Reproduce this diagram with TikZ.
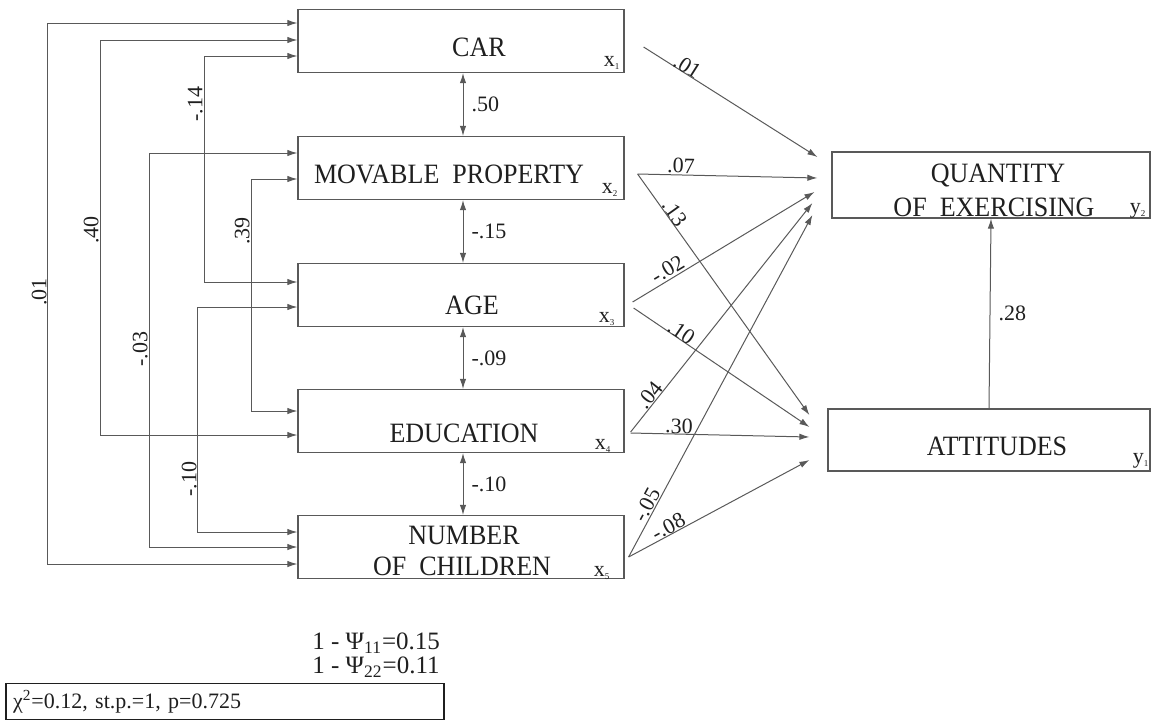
\documentclass[tikz,border=0pt]{standalone}
\usepackage{fontspec}
\setmainfont{Liberation Serif}
\newfontfamily\boxfont[FakeStretch=0.93]{Liberation Serif}
\usetikzlibrary{arrows.meta,calc}
\definecolor{lc}{gray}{0.35}
\definecolor{tc}{gray}{0.12}
\newcommand\xsub[2]{#1\textsubscript{\fontsize{4.5}{5}\selectfont #2}}
\tikzset{
 box/.style={draw=lc, line width=0.6pt, minimum width=163pt, minimum height=31.5pt, inner sep=0pt},
 boxtext/.style={font=\boxfont\fontsize{14}{16}\selectfont, text=tc, inner sep=0pt},
 subl/.style={font=\fontsize{11}{12}\selectfont, text=tc, inner sep=0pt},
 coef/.style={font=\fontsize{11}{12}\selectfont, text=tc, inner sep=1pt},
 arr/.style={draw=lc, line width=0.5pt, -{Latex[length=5pt,width=3.2pt]}},
 dbl/.style={draw=lc, line width=0.5pt, {Latex[length=5pt,width=3.2pt]}-{Latex[length=5pt,width=3.2pt]}},
 bottxt/.style={font=\fontsize{12.5}{14}\selectfont, text=tc, inner sep=0pt, anchor=west},
}
\begin{document}
\begin{tikzpicture}[x=0.5pt,y=-0.5pt]
\useasboundingbox (0,0) rectangle (1155,725);
% boxes
\node[box] (car) at (461,41) {};
\node[box] (mov) at (461,168) {};
\node[box] (age) at (461,295) {};
\node[box] (edu) at (461,421) {};
\node[box] (num) at (461,547) {};
\node[box, minimum width=159pt, minimum height=33pt] (q) at (991,185) {};
\node[box, minimum width=161pt, minimum height=31pt] (att) at (989,440) {};
% box texts
\node[boxtext] (tcar) at (479,47) {CAR};
\node[boxtext] (tmov) at (449,174) {MOVABLE~~PROPERTY};
\node[boxtext] (tage) at (472,305) {AGE};
\node[boxtext] (tedu) at (464,433) {EDUCATION};
\node[boxtext] (tnum1) at (464,535) {NUMBER};
\node[boxtext] (tnum2) at (462,566) {OF~~CHILDREN};
\node[boxtext] (tq1) at (998,175) {QUANTITY};
\node[boxtext] (tq2) at (994,207) {OF~~EXERCISING};
\node[boxtext] (tatt) at (997,446) {ATTITUDES};
% subscripts
\node[subl] (xcar) at (612,63) {\xsub{x}{1}};
\node[subl] (xmov) at (610,190) {\xsub{x}{2}};
\node[subl] (xage) at (607,319) {\xsub{x}{3}};
\node[subl] (xedu) at (603,446) {\xsub{x}{4}};
\node[subl] (xnum) at (602,573) {\xsub{x}{5}};
\node[subl] (yq) at (1138,211) {\xsub{y}{2}};
\node[subl] (yatt) at (1141,461) {\xsub{y}{1}};
% correlations between neighbouring boxes
\draw[dbl] ($(car.south)+(2,0)$) -- node[coef, right=3pt] {.50} ($(mov.north)+(2,0)$);
\draw[dbl] ($(mov.south)+(2,0)$) -- node[coef, right=3pt] {-.15} ($(age.north)+(2,0)$);
\draw[dbl] ($(age.south)+(2,0)$) -- node[coef, right=3pt] {-.09} ($(edu.north)+(2,0)$);
\draw[dbl] ($(edu.south)+(2,0)$) -- node[coef, right=3pt] {-.10} ($(num.north)+(2,0)$);
% long correlations on the left
\draw[dbl] ($(car.west)+(0,-18)$) -| ($(num.west)+(-250,17)$) -- ($(num.west)+(0,17)$);
\draw[dbl] ($(car.west)+(0,-1)$) -| ($(edu.west)+(-197,14)$) -- ($(edu.west)+(0,14)$);
\draw[dbl] ($(car.west)+(0,15)$) -| ($(age.west)+(-93,-13)$) -- ($(age.west)+(0,-13)$);
\draw[dbl] ($(mov.west)+(0,-15)$) -| ($(num.west)+(-148,0)$) -- ($(num.west)+(0,0)$);
\draw[dbl] ($(mov.west)+(0,11)$) -| ($(edu.west)+(-46,-10)$) -- ($(edu.west)+(0,-10)$);
\draw[dbl] ($(age.west)+(0,12)$) -| ($(num.west)+(-100,-15)$) -- ($(num.west)+(0,-15)$);
\node[coef, rotate=90, anchor=south] (l01) at (49,292) {.01};
\node[coef, rotate=90, anchor=south] (l40) at (101,230) {.40};
\node[coef, rotate=90, anchor=south] (l14) at (205,104) {-.14};
\node[coef, rotate=90, anchor=south] (l39) at (252,231) {.39};
\node[coef, rotate=90, anchor=south] (l03) at (150,349) {-.03};
\node[coef, rotate=90, anchor=south] (l10) at (199,479) {-.10};
% paths to the dependent variables
\draw[arr] ($(car.east)+(19,6)$) -- node[coef, pos=0.23, sloped, above=-1.5pt] {.01} ($(q.west)+(-14,-28)$);
\draw[arr] ($(mov.east)+(13,6)$) -- node[coef, pos=0.24, sloped, above=-0.5pt] {.07} ($(q.west)+(-14,-7)$);
\draw[arr] ($(mov.east)+(13,6)$) -- node[coef, pos=0.18, sloped, above=-1pt] {.13} ($(att.west)+(-18,-25)$);
\draw[arr] ($(age.east)+(8,7)$) -- node[coef, pos=0.22, sloped, above=0pt] {-.02} ($(q.west)+(-17,7)$);
\draw[arr] ($(age.east)+(9,13)$) -- node[coef, pos=0.25, sloped, above=-1.5pt] {.10} ($(att.west)+(-18,-13)$);
\draw[arr] ($(edu.east)+(6,11)$) -- node[coef, pos=0.14, sloped, above=-1pt] {.04} ($(q.west)+(-19,18)$);
\draw[arr] ($(edu.east)+(6,12)$) -- node[coef, pos=0.27, sloped, above=-1pt] {.30} ($(att.west)+(-18,-3)$);
\draw[arr] ($(num.east)+(4,10)$) -- node[coef, pos=0.14, sloped, above=-0.5pt] {-.05} ($(q.west)+(-19,30)$);
\draw[arr] ($(num.east)+(4,10)$) -- node[coef, pos=0.24, sloped, above=-1pt] {-.08} ($(att.west)+(-18,20)$);
\draw[arr] (att.north) -- node[coef, right=3pt] {.28} (q.south);
% fit statistics
\node[bottxt] (psi1) at (312,643) {1 - Ψ\textsubscript{11}=0.15};
\node[bottxt] (psi2) at (312,667) {1 - Ψ\textsubscript{22}=0.11};
\node[draw=tc, line width=0.8pt, font=\fontsize{11}{13}\selectfont, text=tc, text width=212pt, align=left, inner xsep=3.5pt, minimum height=16.5pt] (chi) at (225,701.5) {χ\textsuperscript{2}=0.12, st.p.=1, p=0.725};
\end{tikzpicture}
\end{document}
